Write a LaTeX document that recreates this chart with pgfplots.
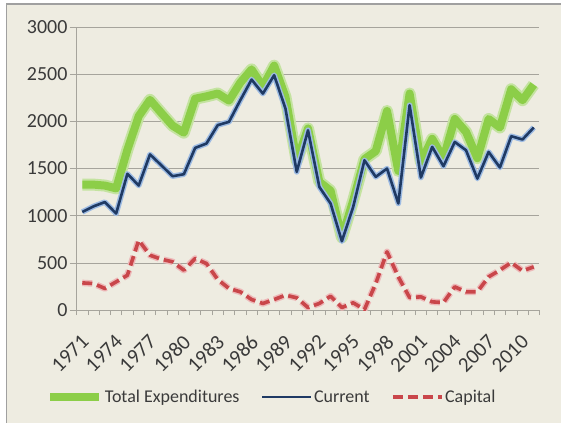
\documentclass[border=0pt]{standalone}
\usepackage{pgfplots}
\pgfplotsset{compat=1.18}
\usepackage{pgfplotstable}
\usepackage{fontspec}
\setmainfont{Carlito}
\definecolor{bg}{HTML}{EEECE1}
\definecolor{frame}{HTML}{A0A0A0}
\definecolor{gridc}{HTML}{A6A49C}
\definecolor{txt}{HTML}{3A3A3A}
\definecolor{totc}{HTML}{8CCE48}
\definecolor{totglow}{HTML}{C4E3A0}
\definecolor{curc}{HTML}{1F3A64}
\definecolor{curglow}{HTML}{9DBBE3}
\definecolor{capc}{HTML}{C9464A}
\definecolor{capglow}{HTML}{EDB8B8}

\pgfplotstableread{
year total current capital
1971 1330 1040 289
1972 1330 1100 282
1973 1320 1145 230
1974 1290 1024 300
1975 1700 1445 370
1976 2055 1320 741
1977 2228 1650 582
1978 2090 1535 540
1979 1955 1419 512
1980 1880 1440 424
1981 2240 1719 547
1982 2265 1765 494
1983 2295 1960 325
1984 2220 1995 230
1985 2410 2224 194
1986 2550 2443 113
1987 2370 2294 71
1988 2590 2489 113
1989 2260 2136 159
1990 1580 1465 131
1991 1925 1906 28
1992 1360 1306 71
1993 1265 1130 148
1994 770 730 28
1995 1160 1094 78
1996 1600 1588 7
1997 1685 1412 282
1998 2110 1500 618
1999 1475 1130 353
2000 2295 2171 134
2001 1565 1405 141
2002 1815 1730 88
2003 1610 1525 81
2004 2025 1782 247
2005 1888 1694 194
2006 1610 1394 194
2007 2025 1676 353
2008 1935 1511 424
2009 2340 1843 505
2010 2224 1808 416
2011 2390 1935 459
}\datatable

\begin{document}
\begin{tikzpicture}[x=1pt,y=1pt]
\fill[white] (0,0) rectangle (562,423);
\fill[bg] (6.5,0) rectangle (562,419);
\draw[frame, line width=1.2pt] (6.5,0) -- (6.5,419) -- (562,419);
\begin{axis}[
  at={(76.7pt,112.5pt)}, anchor=south west,
  scale only axis, width=463.3pt, height=283.5pt,
  xmin=1970.5, xmax=2011.5, ymin=0, ymax=3000,
  axis lines=left, axis line style={-, gridc, line width=0.8pt},
  ytick={0,500,...,3000},
  ymajorgrids, grid style={gridc, line width=0.8pt},
  xtick={1971,1974,...,2010},
  minor xtick={1970.5,1971.5,...,2011.5},
  major x tick style={draw=none},
  minor x tick style={gridc, line width=0.6pt},
  minor tick length=5pt,
  major tick length=7pt,
  ytick style={gridc, line width=0.8pt},
  tick align=outside,
  /pgf/number format/assume math mode=true,
  /pgf/number format/set thousands separator={},
  xticklabel style={rotate=45, anchor=north east, font=\fontsize{21}{21}\selectfont, text=txt, yshift=-9pt, xshift=-12pt, inner sep=1pt},
  yticklabel style={font=\fontsize{20}{20}\selectfont, text=txt, inner sep=2pt},
  legend style={at={(0.4215,-0.307)}, anchor=center, draw=none, fill=none,
     legend columns=3, font=\fontsize{18}{18}\selectfont, text=txt,
     nodes={inner sep=1.5pt},
     /tikz/every even column/.append style={column sep=20pt}},
  legend image code/.code={\draw[#1] (0pt,0pt) -- (49pt,0pt);},
  legend cell align=left,
]
\addplot[totglow, line width=12pt, line join=round, forget plot] table[x=year,y=total] {\datatable};
\addplot[totc, line width=8pt, line join=round] table[x=year,y=total] {\datatable};
\addlegendentry{Total Expenditures}
\addplot[curglow, line width=5.5pt, line join=round, forget plot] table[x=year,y=current] {\datatable};
\addplot[curc, line width=2.6pt, line join=round] table[x=year,y=current] {\datatable};
\addlegendentry{Current}
\addplot[capglow, line width=6.5pt, line join=round, dash pattern=on 10pt off 5pt, forget plot] table[x=year,y=capital] {\datatable};
\addplot[capc, line width=3.6pt, line join=round, dash pattern=on 10pt off 5pt] table[x=year,y=capital] {\datatable};
\addlegendentry{Capital}
\end{axis}
\end{tikzpicture}
\end{document}
